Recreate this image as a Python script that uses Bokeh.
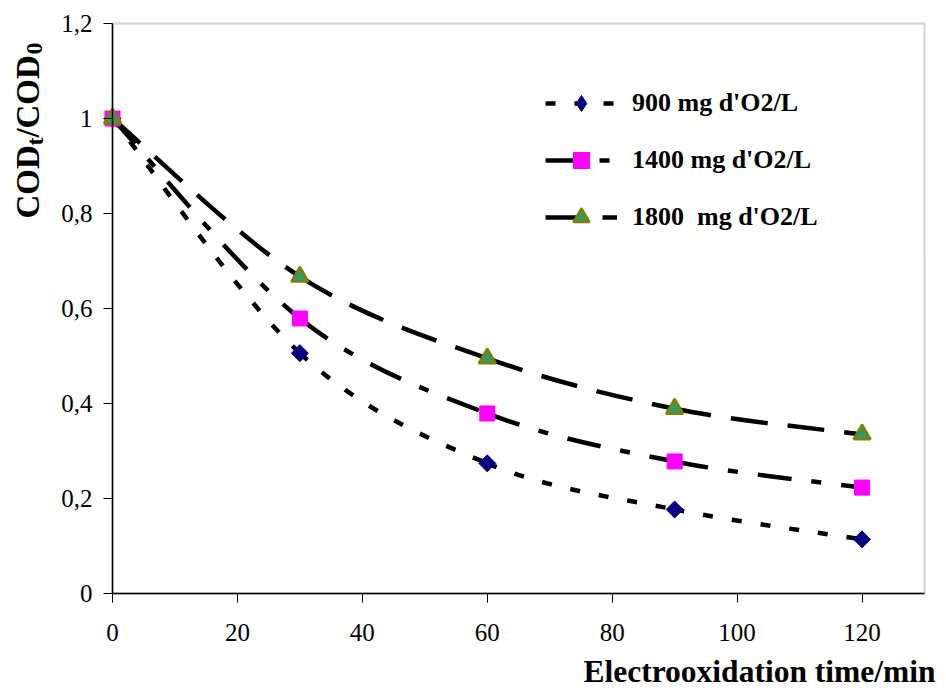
import numpy as np
from bokeh.plotting import figure
from bokeh.models import (Range1d, FixedTicker, BoxAnnotation, Label, Legend,
                          LegendItem, ColumnDataSource)
from bokeh.embed import file_html
from bokeh.resources import INLINE

# ---------------- data ----------------
time_min = [0, 30, 60, 90, 120]
cod_900 = [1.0, 0.506, 0.274, 0.177, 0.114]
cod_1400 = [1.0, 0.579, 0.379, 0.278, 0.223]
cod_1800 = [1.0, 0.667, 0.495, 0.389, 0.335]
series_labels = ["900 mg d'O2/L", "1400 mg d'O2/L", "1800  mg d'O2/L"]

x_ticks = [0, 20, 40, 60, 80, 100, 120]
x_tick_labels = ["0", "20", "40", "60", "80", "100", "120"]
y_ticks = [0, 0.2, 0.4, 0.6, 0.8, 1.0, 1.2]
y_tick_labels = ["0", "0,2", "0,4", "0,6", "0,8", "1", "1,2"]

x_title = "Electrooxidation time/min"
y_title_parts = ["COD", "t", "/", "COD", "0"]

SERIF = "Liberation Serif"

# ---------------- layout (pixels) ----------------
W, H = 946, 688
PL, PR, PT, PB = 112, 924, 23, 593          # plot box in canvas pixels
X0, X1, Y0, Y1 = 0, 130, 0, 1.2             # axis extents
kx = (PR - PL) / (X1 - X0)
ky = (PB - PT) / (Y1 - Y0)
x_range = Range1d(X0 - PL / kx, X1 + (W - PR) / kx)
y_range = Range1d(Y0 - (H - PB) / ky, Y1 + PT / ky)


def smooth_segments(xs, ys):
    """Bezier control points (Catmull-Rom style) through the data points."""
    P = np.column_stack([xs, ys]).astype(float)
    ext = np.vstack([P[0], P, P[-1]])
    T = (ext[2:] - ext[:-2]) / 2.0
    c0 = P[:-1] + T[:-1] / 3.0
    c1 = P[1:] - T[1:] / 3.0
    return ColumnDataSource(dict(
        x0=P[:-1, 0], y0=P[:-1, 1], x1=P[1:, 0], y1=P[1:, 1],
        cx0=c0[:, 0], cy0=c0[:, 1], cx1=c1[:, 0], cy1=c1[:, 1]))


p = figure(width=W, height=H, output_backend="svg", toolbar_location=None,
           x_range=x_range, y_range=y_range,
           min_border_left=0, min_border_right=0,
           min_border_top=0, min_border_bottom=0)
p.background_fill_color = "white"
p.border_fill_color = "white"
p.outline_line_color = None
p.xgrid.grid_line_color = None
p.ygrid.grid_line_color = None

# plot-area border (gray), axes drawn over it in black
p.add_layout(BoxAnnotation(left=X0, right=X1, bottom=Y0, top=Y1,
                           fill_alpha=0, line_color="#808080", line_width=2.5,
                           level="underlay"))

# x axis (fixed at y = 0)
xa = p.xaxis[0]
xa.fixed_location = 0
xa.ticker = FixedTicker(ticks=x_ticks)
xa.major_label_overrides = dict(zip(x_ticks, x_tick_labels))
xa.bounds = (X0, X1)
xa.minor_tick_line_color = None
xa.major_tick_in = 0
xa.major_tick_out = 9
xa.major_label_standoff = 21
xa.axis_line_width = 1.5
xa.axis_line_color = "black"
xa.major_tick_line_color = "black"
xa.major_label_text_font = SERIF
xa.major_label_text_font_size = "25px"
xa.major_label_text_color = "black"

# y axis (fixed at x = 0)
ya = p.yaxis[0]
ya.fixed_location = 0
ya.ticker = FixedTicker(ticks=y_ticks)
ya.major_label_overrides = dict(zip(y_ticks, y_tick_labels))
ya.bounds = (Y0, Y1)
ya.minor_tick_line_color = None
ya.major_tick_in = 0
ya.major_tick_out = 9
ya.major_label_standoff = 11
ya.axis_line_width = 1.5
ya.axis_line_color = "black"
ya.major_tick_line_color = "black"
ya.major_label_text_font = SERIF
ya.major_label_text_font_size = "25px"
ya.major_label_text_color = "black"

LW = 4.5
b900 = p.bezier(x0="x0", y0="y0", x1="x1", y1="y1", cx0="cx0", cy0="cy0",
                cx1="cx1", cy1="cy1", source=smooth_segments(time_min, cod_900),
                line_color="black", line_width=LW, line_dash="10 19")
b1400 = p.bezier(x0="x0", y0="y0", x1="x1", y1="y1", cx0="cx0", cy0="cy0",
                 cx1="cx1", cy1="cy1", source=smooth_segments(time_min, cod_1400),
                 line_color="black", line_width=LW, line_dash="34 20 10 20")
b1800 = p.bezier(x0="x0", y0="y0", x1="x1", y1="y1", cx0="cx0", cy0="cy0",
                 cx1="cx1", cy1="cy1", source=smooth_segments(time_min, cod_1800),
                 line_color="black", line_width=LW, line_dash="37 20")

# diamond (used by the legend), covered by the rotated square in the plot
d900 = p.scatter(time_min, cod_900, marker="diamond", size=16,
                 fill_color="#000080", line_color="#000080")
m900 = p.scatter(time_min, cod_900, marker="square", angle=np.pi / 4, size=12,
                 fill_color="#000080", line_color="#000080")
m1400 = p.scatter(time_min, cod_1400, marker="square", size=15,
                  fill_color="#FF00FF", line_color="#FF00FF")
m1800 = p.scatter(time_min, cod_1800, marker="triangle", size=17,
                  fill_color="#339966", line_color="#808000", line_width=2.5)

legend = Legend(items=[
    LegendItem(label=series_labels[0], renderers=[b900, d900]),
    LegendItem(label=series_labels[1], renderers=[b1400, m1400]),
    LegendItem(label=series_labels[2], renderers=[b1800, m1800]),
], location=(545, 451), orientation="vertical",
    glyph_width=72, glyph_height=40, label_height=40, spacing=17,
    label_standoff=15, padding=0, margin=0,
    border_line_color=None, background_fill_alpha=0,
    label_text_font=SERIF, label_text_font_style="bold",
    label_text_font_size="26px", label_text_color="black")
p.add_layout(legend)

# x title (screen units; frame == whole canvas, origin bottom-left)
p.add_layout(Label(x=935, y=17, x_units="screen", y_units="screen",
                   text=x_title, text_align="right", text_baseline="alphabetic",
                   text_font=SERIF, text_font_style="bold",
                   text_font_size="31.5px", text_color="black"))

# y title with subscripts (rotated pieces)
y_pos = [470, 543, 551, 560, 634]
x_pos = [27, 34, 27, 27, 34]
sizes = ["33px", "24px", "33px", "33px", "24px"]
for part, yy, xx, fs in zip(y_title_parts, y_pos, x_pos, sizes):
    p.add_layout(Label(x=xx, y=yy, x_units="screen", y_units="screen",
                       text=part, angle=np.pi / 2, text_align="left",
                       text_baseline="alphabetic",
                       text_font=SERIF, text_font_style="bold",
                       text_font_size=fs, text_color="black"))

open("out.html", "w").write(file_html(p, INLINE))
